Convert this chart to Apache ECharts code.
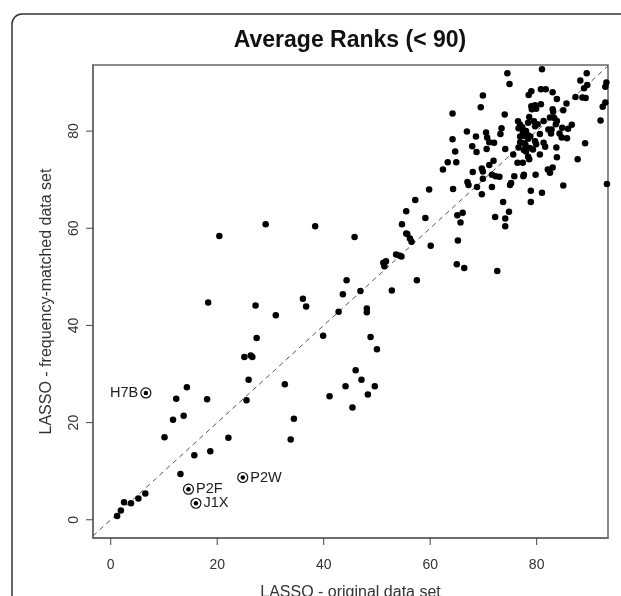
<!DOCTYPE html>
<html><head><meta charset="utf-8">
<script src="https://cdn.jsdelivr.net/npm/echarts@6/dist/echarts.min.js"></script>
<style>html,body{margin:0;padding:0;background:#fff}#c{width:621px;height:596px}</style>
</head><body><div id="c"></div>
<script>
const titleText = 'Average Ranks (< 90)';
const xName = 'LASSO - original data set';
const yName = 'LASSO - frequency-matched data set';
const xTicks = [0, 20, 40, 60, 80];
const yTicks = [0, 20, 40, 60, 80];
const xRange = [-3.33, 93.4];
const yRange = [-3.75, 93.6];

const origRank = [
1.2,1.9,2.5,3.8,5.2,6.5,10.1,11.7,12.3,13.1,13.7,14.3,15.7,18.1,18.3,18.7,20.4,22.1,25.1,25.5,
25.9,26.3,26.6,27.2,27.4,29.1,31.0,32.7,33.8,34.4,36.1,36.7,38.4,39.9,41.1,42.8,43.6,44.1,44.3,45.4,
45.8,46.0,46.9,47.1,48.1,48.1,48.3,48.8,49.6,50.0,51.2,51.7,51.4,52.8,53.6,54.2,54.6,54.7,55.5,55.5,
55.7,56.2,56.5,57.2,57.5,59.1,59.8,60.1,62.4,63.3,64.9,64.2,64.2,64.3,64.7,65.1,66.1,65.7,65.2,65.0,
66.4,66.9,67.0,67.2,67.9,68.0,68.6,68.7,68.8,69.5,69.9,69.7,69.9,69.9,69.7,70.5,70.7,70.6,71.1,72.0,
71.1,71.9,71.6,72.3,73.0,71.6,72.2,72.6,73.4,73.2,74.0,74.1,73.7,74.1,74.1,74.5,74.9,74.8,75.0,75.2,
75.6,75.8,76.4,77.4,76.6,76.9,76.5,76.9,77.3,76.6,77.4,77.8,77.5,76.9,77.6,78.0,77.5,77.6,77.6,77.9,
78.5,79.0,78.6,79.0,79.7,79.1,79.9,78.4,78.0,78.3,78.8,78.7,79.3,78.4,78.6,78.9,78.9,78.4,79.7,79.9,
79.5,80.2,79.7,81.3,81.0,80.8,81.7,83.0,83.8,80.8,83.0,83.1,85.6,82.5,83.3,83.8,83.6,84.8,85.9,86.6,
82.2,82.8,82.7,84.3,84.7,85.7,80.6,81.3,81.6,80.6,83.7,83.8,79.8,83.0,82.1,82.5,81.0,85.0,87.3,88.6,
89.2,88.2,88.9,89.5,89.4,92.9,93.1,92.9,92.4,92.0,89.1,87.7,93.2,85.0
];
const matchedRank = [
0.8,1.9,3.6,3.4,4.4,5.4,17.0,20.6,24.9,9.4,21.4,27.3,13.3,24.8,44.7,14.1,58.4,16.9,33.5,24.6,
28.8,33.8,33.5,44.1,37.4,60.8,42.1,27.9,16.5,20.8,45.5,43.9,60.4,37.9,25.4,42.8,46.4,27.5,49.3,23.1,
58.2,30.8,47.1,28.8,43.5,42.7,25.8,37.6,27.5,35.1,52.9,53.2,52.2,47.2,54.6,54.4,54.2,60.8,63.5,58.9,
58.8,57.9,57.2,65.8,49.3,62.1,68.0,56.4,72.1,73.6,73.6,83.6,78.3,68.1,75.8,62.7,63.2,61.2,57.5,52.6,
51.8,79.9,69.5,68.9,76.9,71.6,78.9,75.7,68.5,84.9,87.3,72.3,71.7,70.2,67.0,79.7,78.7,76.3,77.7,77.6,
73.0,73.9,71.0,70.7,70.6,68.5,62.3,51.2,80.6,79.4,83.4,76.3,65.4,62.0,60.4,91.9,89.7,63.4,68.9,69.3,
75.2,70.7,73.5,73.5,76.6,77.7,82.0,81.3,80.8,80.6,79.6,80.0,79.0,78.9,76.1,75.8,70.7,71.0,77.5,77.2,
87.4,88.2,82.9,85.1,85.3,84.5,84.6,81.7,80.0,79.2,78.9,76.5,76.2,74.7,74.2,67.7,65.4,78.4,77.9,77.3,
82.0,81.4,81.0,82.1,92.7,88.6,88.6,88.0,86.6,85.5,84.5,84.0,85.7,82.8,82.7,82.1,81.4,80.7,80.5,81.3,
80.3,80.3,79.5,79.5,78.7,78.5,79.4,77.6,76.8,75.2,76.6,74.6,71.0,72.5,72.1,71.4,67.3,68.8,87.0,86.9,
86.8,90.4,88.8,89.5,91.9,89.1,90.0,85.9,85.0,82.2,77.5,74.2,69.1,84.3
];
const labelNames = ['H7B', 'P2F', 'J1X', 'P2W'];
const labelX = [6.6, 14.6, 16.0, 24.8];
const labelY = [26.1, 6.3, 3.4, 8.7];

const FONT = "'Liberation Sans', Arial, sans-serif";
const TICK_LEN = 7;
const chart = echarts.init(document.getElementById('c'), null, {renderer: 'canvas'});
const pts = origRank.map((x, i) => [x, matchedRank[i]]);
const labPts = labelNames.map((n, i) => ({
  name: n, value: [labelX[i], labelY[i]],
  label: {position: n === 'H7B' ? 'left' : 'right'}
}));

// outward tick marks, positioned through the axes' own scales
function tickSeries(values, dim) {
  return {
    type: 'custom', silent: true, clip: false, z: 6,
    data: values.map(v => dim === 'x' ? [v, yRange[0]] : [xRange[0], v]),
    renderItem: (params, api) => {
      const p = api.coord([api.value(0), api.value(1)]);
      const shape = dim === 'x'
        ? {x1: p[0], y1: p[1], x2: p[0], y2: p[1] + TICK_LEN}
        : {x1: p[0] - TICK_LEN, y1: p[1], x2: p[0], y2: p[1]};
      return {type: 'line', shape: shape, style: {stroke: '#444', lineWidth: 1}};
    }
  };
}

chart.setOption({
  animation: false,
  backgroundColor: '#fff',
  title: {
    text: titleText, left: 350, top: 29, textAlign: 'center', padding: 0,
    textStyle: {fontFamily: FONT, fontSize: 23, fontWeight: 'bold', color: '#111'}
  },
  graphic: [{
    type: 'rect', silent: true, z: 100,
    shape: {x: 12, y: 14, width: 700, height: 700, r: 10},
    style: {fill: 'none', stroke: '#333', lineWidth: 1.5}
  }],
  grid: {left: 93, right: 13, top: 65, bottom: 58, outerBoundsMode: 'none', containLabel: false,
         show: true, borderColor: '#666', borderWidth: 1.5, backgroundColor: 'transparent'},
  xAxis: {
    type: 'value', min: xRange[0], max: xRange[1],
    name: xName, nameLocation: 'middle', nameGap: 47,
    nameTextStyle: {fontFamily: FONT, fontSize: 16, color: '#333'},
    axisLine: {show: true, onZero: false, lineStyle: {color: '#666', width: 1.5}},
    axisTick: {show: false},
    axisLabel: {customValues: xTicks, margin: 20, fontFamily: FONT, fontSize: 14, color: '#333'},
    splitLine: {show: false}
  },
  yAxis: {
    type: 'value', min: yRange[0], max: yRange[1],
    name: yName, nameLocation: 'middle', nameGap: 38,
    nameTextStyle: {fontFamily: FONT, fontSize: 16, color: '#333'},
    axisLine: {show: true, onZero: false, lineStyle: {color: '#666', width: 1.5}},
    axisTick: {show: false},
    axisLabel: {customValues: yTicks, margin: 12, rotate: 90, fontFamily: FONT, fontSize: 14, color: '#333'},
    splitLine: {show: false}
  },
  series: [
    {
      type: 'line', data: [[xRange[0], xRange[0]], [xRange[1], xRange[1]]],
      symbol: 'none', clip: true, silent: true, z: 1,
      lineStyle: {color: '#555', width: 1, type: [5, 4]}
    },
    {
      type: 'scatter', data: pts, symbol: 'circle', symbolSize: 6.5, z: 3,
      itemStyle: {color: '#000', opacity: 1}
    },
    {
      type: 'scatter', data: labPts, symbol: 'circle', symbolSize: 10, z: 4,
      itemStyle: {color: '#fff', borderColor: '#111', borderWidth: 1.2, opacity: 1},
      label: {show: true, formatter: '{b}', distance: 2, fontFamily: FONT, fontSize: 14.5, color: '#222'}
    },
    {
      type: 'scatter', data: labPts.map(p => p.value), symbol: 'circle', symbolSize: 4.5, z: 5,
      itemStyle: {color: '#000', opacity: 1}
    },
    tickSeries(xTicks, 'x'),
    tickSeries(yTicks, 'y')
  ]
});
</script>
</body></html>
